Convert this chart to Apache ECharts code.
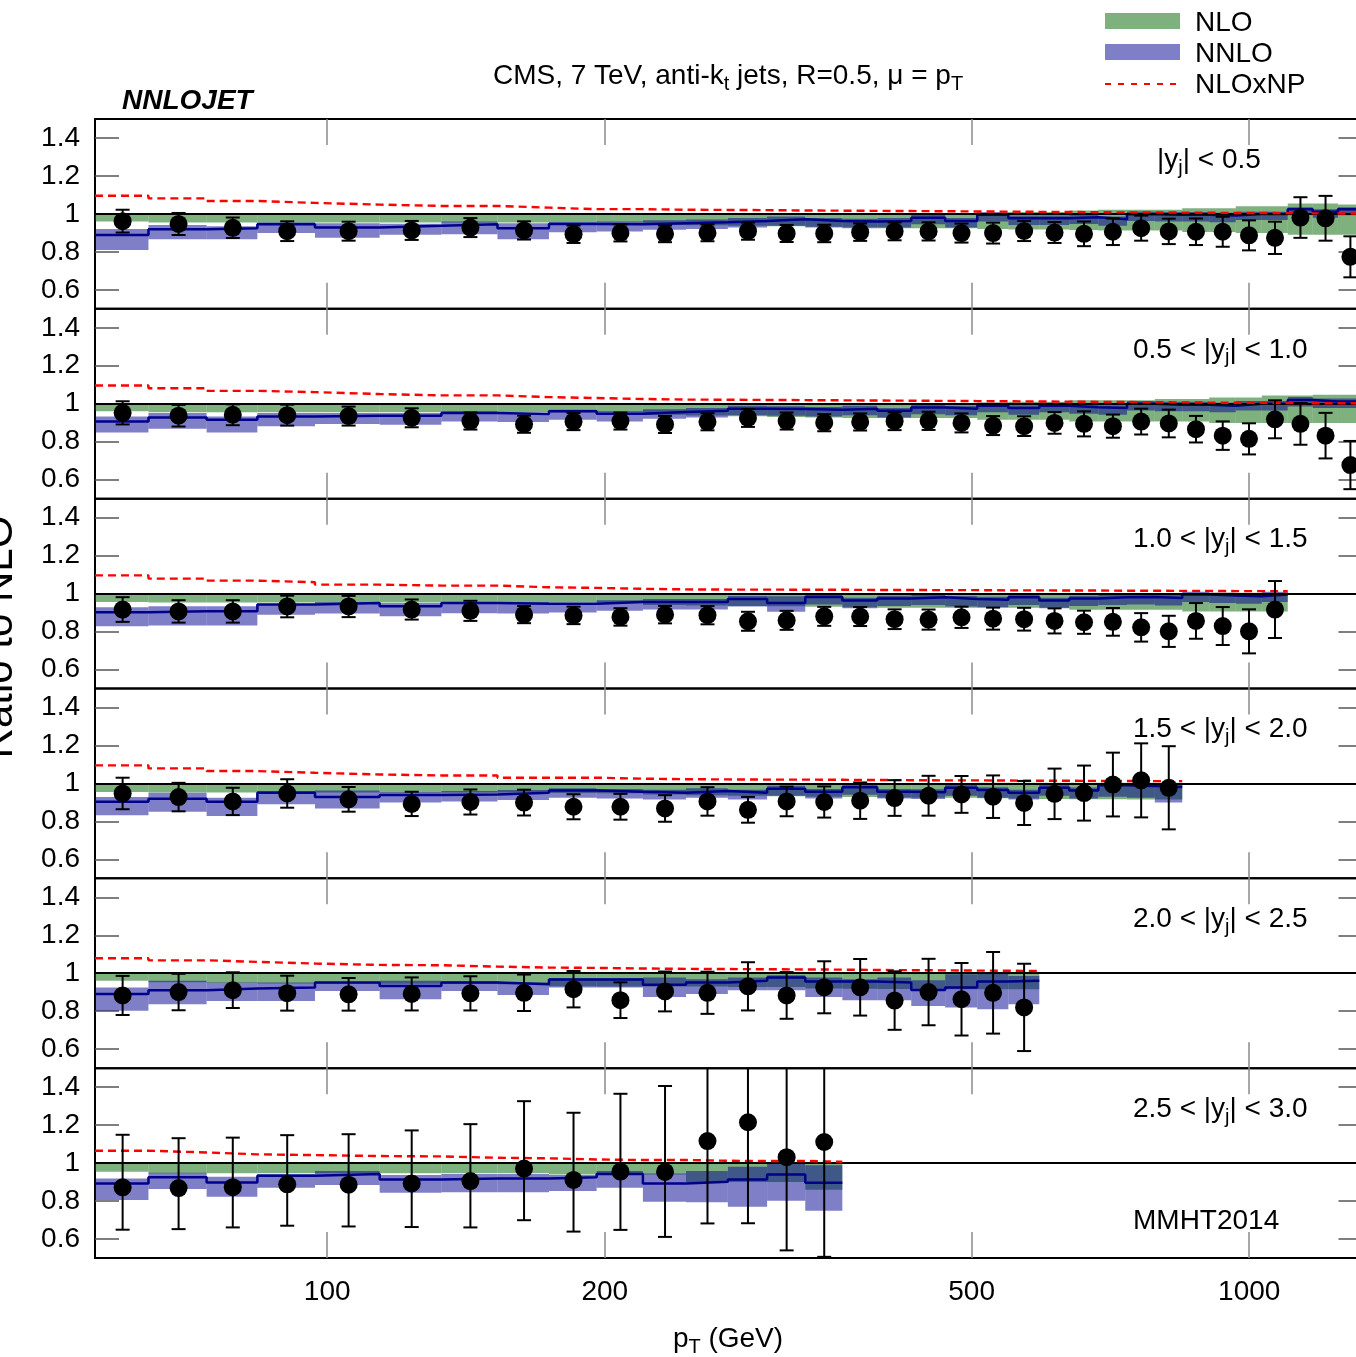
<!DOCTYPE html>
<html>
<head>
<meta charset="utf-8">
<title>NNLOJET – CMS 7 TeV inclusive jets, ratio to NLO</title>
<script src="https://cdn.jsdelivr.net/npm/echarts@6/dist/echarts.min.js"></script>
<style>
  html, body { margin: 0; padding: 0; background: #ffffff; }
  #chart { width: 1356px; height: 1357px; }
</style>
</head>
<body>
<div id="chart"></div>
<script>
// ---------------------------------------------------------------------------
// Jet pT bin edges (GeV) shared by all rapidity slices
const binEdges = [56, 64, 74, 84, 97, 114, 133, 153, 174, 196, 220, 245, 272, 300, 330, 362,
  395, 430, 468, 507, 548, 592, 638, 686, 737, 790, 846, 905, 967, 1032, 1101, 1172, 1248, 1327];
const xTickValues = [100, 200, 500, 1000];
const yTickValues = [0.6, 0.8, 1.0, 1.2, 1.4];
// rapidity slice bounds: [lower, upper] ('' = no lower bound)
const sliceBounds = [['', '0.5'], ['0.5', '1.0'], ['1.0', '1.5'], ['1.5', '2.0'], ['2.0', '2.5'], ['2.5', '3.0']];

// ---- |y| < 0.5 ------------------------------------------------------------
const cmsY1 = [0.962, 0.947, 0.927, 0.909, 0.909, 0.913, 0.928, 0.913, 0.893, 0.9, 0.895, 0.9, 0.909, 0.897, 0.897, 0.904, 0.908, 0.908, 0.899, 0.899, 0.91, 0.902, 0.895, 0.906, 0.925, 0.908, 0.906, 0.906, 0.887, 0.874, 0.981, 0.977, 0.774];
const errY1 = [0.06, 0.058, 0.054, 0.052, 0.05, 0.05, 0.05, 0.048, 0.046, 0.045, 0.044, 0.044, 0.045, 0.045, 0.046, 0.046, 0.047, 0.048, 0.05, 0.055, 0.053, 0.055, 0.065, 0.07, 0.066, 0.067, 0.07, 0.079, 0.079, 0.085, 0.107, 0.118, 0.108];
const nloLoY1 = [0.96, 0.955, 0.955, 0.955, 0.955, 0.955, 0.955, 0.955, 0.955, 0.955, 0.942, 0.94, 0.937, 0.935, 0.932, 0.93, 0.925, 0.925, 0.925, 0.92, 0.918, 0.918, 0.915, 0.912, 0.912, 0.912, 0.905, 0.905, 0.9, 0.9, 0.89, 0.89, 0.89];
const nloHiY1 = [1, 1, 1, 1, 1, 1, 1, 1, 1, 1, 1, 1, 1, 1, 1, 1, 1, 1, 1, 1.005, 1.01, 1.01, 1.018, 1.022, 1.022, 1.022, 1.03, 1.03, 1.04, 1.04, 1.055, 1.055, 1.05];
const nnloY1 = [0.889, 0.919, 0.925, 0.946, 0.928, 0.937, 0.946, 0.925, 0.947, 0.946, 0.951, 0.956, 0.963, 0.972, 0.963, 0.96, 0.963, 0.98, 0.963, 0.995, 0.977, 0.977, 0.982, 0.972, 0.998, 0.995, 0.995, 0.991, 1.0, 1.0, 1.025, 1.012, 1.025];
const nnloHiY1 = [0.921, 0.942, 0.935, 0.956, 0.951, 0.948, 0.96, 0.951, 0.958, 0.96, 0.966, 0.971, 0.978, 0.987, 0.978, 0.975, 0.978, 0.995, 0.978, 1.01, 0.992, 0.992, 0.997, 0.987, 1.013, 1.01, 1.01, 1.006, 1.012, 1.012, 1.035, 1.024, 1.035];
const nnloLoY1 = [0.81, 0.867, 0.867, 0.9, 0.875, 0.89, 0.893, 0.867, 0.904, 0.907, 0.916, 0.921, 0.928, 0.937, 0.928, 0.925, 0.928, 0.945, 0.928, 0.96, 0.942, 0.942, 0.947, 0.937, 0.963, 0.96, 0.96, 0.956, 0.968, 0.968, 0.993, 0.98, 0.993];
const npY1 = [1.096, 1.082, 1.068, 1.058, 1.049, 1.042, 1.042, 1.033, 1.025, 1.025, 1.022, 1.021, 1.02, 1.018, 1.017, 1.016, 1.015, 1.014, 1.013, 1.012, 1.011, 1.01, 1.009, 1.008, 1.008, 1.007, 1.006, 1.005, 1.005, 1.004, 1.003, 1.002, 1.002];

// ---- 0.5 < |y| < 1.0 -------------------------------------------------------
const cmsY2 = [0.952, 0.937, 0.942, 0.94, 0.935, 0.926, 0.909, 0.892, 0.906, 0.909, 0.891, 0.905, 0.925, 0.909, 0.9, 0.904, 0.908, 0.91, 0.899, 0.885, 0.882, 0.899, 0.894, 0.882, 0.906, 0.896, 0.866, 0.832, 0.815, 0.918, 0.894, 0.832, 0.677];
const errY2 = [0.061, 0.057, 0.055, 0.055, 0.05, 0.05, 0.045, 0.045, 0.045, 0.045, 0.045, 0.045, 0.047, 0.045, 0.045, 0.045, 0.047, 0.048, 0.05, 0.05, 0.052, 0.057, 0.066, 0.061, 0.068, 0.073, 0.07, 0.075, 0.082, 0.1, 0.11, 0.12, 0.127];
const nloLoY2 = [0.96, 0.955, 0.955, 0.955, 0.955, 0.955, 0.955, 0.955, 0.955, 0.955, 0.942, 0.938, 0.934, 0.93, 0.927, 0.925, 0.925, 0.925, 0.925, 0.916, 0.916, 0.916, 0.907, 0.907, 0.907, 0.907, 0.907, 0.898, 0.898, 0.898, 0.898, 0.898, 0.898];
const nloHiY2 = [1, 1, 1, 1, 1, 1, 1, 1, 1, 1, 1, 1, 1, 1, 1, 1, 1, 1, 1, 1.007, 1.01, 1.01, 1.018, 1.018, 1.018, 1.025, 1.025, 1.033, 1.033, 1.044, 1.044, 1.047, 1.047];
const nnloY2 = [0.907, 0.928, 0.916, 0.933, 0.937, 0.937, 0.951, 0.946, 0.96, 0.947, 0.956, 0.963, 0.974, 0.972, 0.968, 0.974, 0.963, 0.98, 0.974, 0.99, 0.977, 0.99, 0.982, 0.977, 1.0, 0.995, 0.995, 0.99, 1.0, 1.0, 1.02, 1.012, 1.012];
const nnloHiY2 = [0.933, 0.951, 0.933, 0.951, 0.951, 0.951, 0.96, 0.951, 0.968, 0.96, 0.971, 0.978, 0.989, 0.987, 0.983, 0.989, 0.978, 0.995, 0.989, 1.005, 0.992, 1.005, 0.997, 0.992, 1.015, 1.01, 1.01, 1.005, 1.015, 1.015, 1.035, 1.027, 1.027];
const nnloLoY2 = [0.849, 0.868, 0.849, 0.881, 0.893, 0.89, 0.907, 0.904, 0.916, 0.907, 0.921, 0.928, 0.939, 0.937, 0.933, 0.939, 0.928, 0.945, 0.939, 0.955, 0.942, 0.955, 0.947, 0.942, 0.965, 0.96, 0.96, 0.955, 0.965, 0.965, 0.985, 0.977, 0.977];
const npY2 = [1.096, 1.082, 1.068, 1.061, 1.051, 1.044, 1.044, 1.035, 1.03, 1.025, 1.022, 1.021, 1.02, 1.019, 1.018, 1.017, 1.016, 1.015, 1.014, 1.013, 1.012, 1.011, 1.01, 1.009, 1.008, 1.007, 1.006, 1.005, 1.005, 1.004, 1.003, 1.003, 1.002];

// ---- 1.0 < |y| < 1.5 -------------------------------------------------------
const cmsY3 = [0.916, 0.906, 0.906, 0.932, 0.932, 0.916, 0.909, 0.889, 0.885, 0.877, 0.889, 0.886, 0.854, 0.859, 0.88, 0.879, 0.865, 0.863, 0.875, 0.868, 0.865, 0.856, 0.849, 0.851, 0.822, 0.801, 0.856, 0.829, 0.801, 0.916];
const errY3 = [0.065, 0.059, 0.059, 0.057, 0.056, 0.053, 0.053, 0.045, 0.046, 0.046, 0.046, 0.048, 0.05, 0.05, 0.05, 0.05, 0.052, 0.053, 0.056, 0.058, 0.06, 0.066, 0.061, 0.073, 0.075, 0.082, 0.094, 0.1, 0.116, 0.15];
const nloLoY3 = [0.955, 0.953, 0.953, 0.953, 0.953, 0.953, 0.953, 0.953, 0.953, 0.953, 0.94, 0.937, 0.935, 0.933, 0.93, 0.928, 0.925, 0.925, 0.925, 0.925, 0.925, 0.925, 0.915, 0.915, 0.915, 0.915, 0.905, 0.905, 0.905, 0.905];
const nloHiY3 = [1, 1, 1, 1, 1, 1, 1, 1, 1, 1, 1, 1, 1, 1, 1, 1, 1, 1, 1, 1, 1, 1, 1, 1, 1, 1, 1.005, 1.005, 1.005, 1.005];
const nnloY3 = [0.902, 0.907, 0.907, 0.942, 0.951, 0.933, 0.951, 0.946, 0.946, 0.956, 0.956, 0.956, 0.972, 0.951, 0.982, 0.963, 0.974, 0.98, 0.972, 0.968, 0.98, 0.963, 0.974, 0.98, 0.982, 0.977, 0.995, 0.99, 0.986, 0.995];
const nnloHiY3 = [0.928, 0.933, 0.933, 0.946, 0.956, 0.951, 0.956, 0.956, 0.951, 0.965, 0.971, 0.971, 0.987, 0.986, 0.997, 0.978, 0.989, 0.995, 0.987, 0.983, 0.995, 0.978, 0.989, 0.995, 0.997, 0.992, 1.01, 1.005, 1.001, 1.01];
const nnloLoY3 = [0.828, 0.832, 0.832, 0.889, 0.895, 0.881, 0.897, 0.895, 0.9, 0.91, 0.916, 0.916, 0.932, 0.904, 0.942, 0.923, 0.934, 0.94, 0.932, 0.928, 0.94, 0.923, 0.934, 0.94, 0.942, 0.937, 0.955, 0.95, 0.946, 0.955];
const npY3 = [1.096, 1.079, 1.068, 1.06, 1.047, 1.042, 1.042, 1.033, 1.03, 1.025, 1.022, 1.021, 1.021, 1.02, 1.02, 1.019, 1.019, 1.018, 1.018, 1.017, 1.017, 1.016, 1.016, 1.015, 1.015, 1.014, 1.014, 1.013, 1.013, 1.012];

// ---- 1.5 < |y| < 2.0 -------------------------------------------------------
const cmsY4 = [0.947, 0.928, 0.905, 0.947, 0.916, 0.892, 0.902, 0.899, 0.877, 0.877, 0.868, 0.905, 0.861, 0.905, 0.902, 0.909, 0.923, 0.935, 0.942, 0.93, 0.897, 0.945, 0.949, 0.994, 1.016, 0.977];
const errY4 = [0.083, 0.075, 0.072, 0.075, 0.065, 0.064, 0.066, 0.068, 0.066, 0.068, 0.07, 0.075, 0.068, 0.078, 0.082, 0.096, 0.094, 0.105, 0.097, 0.112, 0.116, 0.133, 0.145, 0.168, 0.195, 0.219];
const nloLoY4 = [0.955, 0.952, 0.952, 0.952, 0.952, 0.952, 0.952, 0.952, 0.95, 0.948, 0.942, 0.938, 0.935, 0.932, 0.93, 0.928, 0.926, 0.925, 0.924, 0.922, 0.92, 0.918, 0.917, 0.916, 0.915, 0.915];
const nloHiY4 = [1, 1, 1, 1, 1, 1, 1, 1, 1, 1, 1, 1, 1, 1, 1, 1, 1, 1, 1, 1.003, 1.003, 1.003, 1.003, 1.003, 1.003, 1.003];
const nnloY4 = [0.904, 0.919, 0.904, 0.951, 0.928, 0.939, 0.942, 0.951, 0.963, 0.956, 0.951, 0.96, 0.951, 0.972, 0.956, 0.98, 0.956, 0.954, 0.977, 0.965, 0.951, 0.977, 0.963, 0.99, 0.986, 0.981];
const nnloHiY4 = [0.928, 0.951, 0.925, 0.96, 0.963, 0.955, 0.96, 0.965, 0.975, 0.97, 0.966, 0.975, 0.966, 0.987, 0.971, 0.995, 0.971, 0.969, 0.992, 0.98, 0.966, 0.992, 0.978, 1.0, 0.998, 0.995];
const nnloLoY4 = [0.832, 0.851, 0.828, 0.89, 0.868, 0.9, 0.905, 0.912, 0.925, 0.92, 0.915, 0.925, 0.915, 0.935, 0.92, 0.94, 0.92, 0.918, 0.935, 0.925, 0.915, 0.935, 0.92, 0.93, 0.925, 0.9];
const npY4 = [1.095, 1.079, 1.065, 1.056, 1.047, 1.042, 1.042, 1.03, 1.03, 1.025, 1.022, 1.021, 1.02, 1.02, 1.019, 1.018, 1.017, 1.016, 1.016, 1.015, 1.014, 1.014, 1.013, 1.013, 1.012, 1.012];

// ---- 2.0 < |y| < 2.5 -------------------------------------------------------
const cmsY5 = [0.883, 0.901, 0.911, 0.895, 0.889, 0.891, 0.894, 0.897, 0.916, 0.858, 0.904, 0.897, 0.931, 0.883, 0.926, 0.926, 0.856, 0.901, 0.863, 0.897, 0.82];
const errY5 = [0.103, 0.096, 0.094, 0.092, 0.086, 0.087, 0.09, 0.096, 0.096, 0.094, 0.105, 0.111, 0.127, 0.123, 0.137, 0.149, 0.154, 0.175, 0.191, 0.215, 0.23];
const nloLoY5 = [0.96, 0.952, 0.948, 0.946, 0.945, 0.944, 0.943, 0.942, 0.932, 0.93, 0.93, 0.93, 0.928, 0.927, 0.92, 0.918, 0.917, 0.916, 0.915, 0.915, 0.915];
const nloHiY5 = [1, 1, 1, 1, 1, 1, 1, 1, 1, 1, 1, 1, 1, 1, 1.005, 1.005, 1.005, 1.005, 1.005, 1.005, 1.005];
const nnloY5 = [0.89, 0.911, 0.919, 0.925, 0.951, 0.933, 0.951, 0.942, 0.967, 0.967, 0.939, 0.951, 0.96, 0.977, 0.956, 0.956, 0.951, 0.912, 0.925, 0.956, 0.96];
const nnloHiY5 = [0.925, 0.96, 0.951, 0.951, 0.954, 0.96, 0.956, 0.951, 0.974, 0.974, 0.977, 0.968, 0.977, 0.99, 0.977, 0.968, 0.977, 0.963, 0.995, 0.998, 0.986];
const nnloLoY5 = [0.802, 0.837, 0.854, 0.854, 0.907, 0.863, 0.907, 0.886, 0.925, 0.925, 0.875, 0.89, 0.91, 0.91, 0.875, 0.858, 0.858, 0.828, 0.819, 0.81, 0.837];
const npY5 = [1.079, 1.068, 1.06, 1.051, 1.044, 1.042, 1.035, 1.03, 1.028, 1.025, 1.023, 1.022, 1.021, 1.02, 1.019, 1.017, 1.016, 1.015, 1.014, 1.013, 1.012];

// ---- 2.5 < |y| < 3.0 -------------------------------------------------------
const cmsY6 = [0.872, 0.868, 0.873, 0.888, 0.886, 0.893, 0.905, 0.971, 0.911, 0.955, 0.953, 1.116, 1.215, 1.031, 1.111];
const errUpY6 = [0.277, 0.263, 0.261, 0.259, 0.266, 0.279, 0.3, 0.355, 0.354, 0.41, 0.453, 0.58, 0.68, 0.62, 0.75];
const errDnY6 = [0.223, 0.216, 0.212, 0.218, 0.22, 0.23, 0.244, 0.272, 0.272, 0.307, 0.342, 0.434, 0.532, 0.491, 0.605];
const nloLoY6 = [0.954, 0.946, 0.946, 0.946, 0.946, 0.946, 0.946, 0.946, 0.94, 0.94, 0.94, 0.9, 0.9, 0.9, 0.86];
const nloHiY6 = [1, 1, 1, 1, 1, 1, 1, 1, 1, 1, 1, 1, 1, 1, 1];
const nnloY6 = [0.893, 0.925, 0.898, 0.933, 0.942, 0.914, 0.919, 0.919, 0.925, 0.942, 0.893, 0.902, 0.914, 0.94, 0.896];
const nnloHiY6 = [0.919, 0.949, 0.928, 0.942, 0.958, 0.937, 0.942, 0.942, 0.937, 0.958, 0.945, 0.958, 0.981, 0.998, 0.989];
const nnloLoY6 = [0.805, 0.863, 0.823, 0.87, 0.884, 0.844, 0.846, 0.846, 0.853, 0.87, 0.796, 0.793, 0.77, 0.802, 0.749];
const npY6 = [1.065, 1.056, 1.046, 1.042, 1.037, 1.035, 1.028, 1.025, 1.019, 1.016, 1.016, 1.012, 1.011, 1.011, 1.007];

const slices = [
  { cms: cmsY1, errUp: errY1, errDn: errY1, nloLo: nloLoY1, nloHi: nloHiY1, nnlo: nnloY1, nnloLo: nnloLoY1, nnloHi: nnloHiY1, np: npY1 },
  { cms: cmsY2, errUp: errY2, errDn: errY2, nloLo: nloLoY2, nloHi: nloHiY2, nnlo: nnloY2, nnloLo: nnloLoY2, nnloHi: nnloHiY2, np: npY2 },
  { cms: cmsY3, errUp: errY3, errDn: errY3, nloLo: nloLoY3, nloHi: nloHiY3, nnlo: nnloY3, nnloLo: nnloLoY3, nnloHi: nnloHiY3, np: npY3 },
  { cms: cmsY4, errUp: errY4, errDn: errY4, nloLo: nloLoY4, nloHi: nloHiY4, nnlo: nnloY4, nnloLo: nnloLoY4, nnloHi: nnloHiY4, np: npY4 },
  { cms: cmsY5, errUp: errY5, errDn: errY5, nloLo: nloLoY5, nloHi: nloHiY5, nnlo: nnloY5, nnloLo: nnloLoY5, nnloHi: nnloHiY5, np: npY5 },
  { cms: cmsY6, errUp: errUpY6, errDn: errDnY6, nloLo: nloLoY6, nloHi: nloHiY6, nnlo: nnloY6, nnloLo: nnloLoY6, nnloHi: nnloHiY6, np: npY6 }
];

// ---------------------------------------------------------------------------
// Styling
const FONT = "'Liberation Sans', Arial, Helvetica, sans-serif";
const FONT_SIZE = 28;
const SUB_SIZE = 20;
const NLO_FILL = 'rgba(0, 100, 0, 0.5)';
const NNLO_FILL = 'rgba(0, 0, 145, 0.5)';
const NNLO_LINE = '#00008b';
const NP_LINE = '#ff0000';

// Panel geometry
const PLOT_LEFT = 95;
const PLOT_TOP = 119;
const PANEL_H = 189.83;
const PLOT_W = 1267.5;
const X_MIN = binEdges[0];
const X_MAX = binEdges[binEdges.length - 1];

// step-line points: value held over each bin, closing at the last edge
function stepPoints(values) {
  const pts = values.map((v, k) => [binEdges[k], v]);
  pts.push([binEdges[values.length], values[values.length - 1]]);
  return pts;
}

function bandData(lo, hi) {
  return lo.map((v, k) => [binEdges[k], binEdges[k + 1], v, hi[k]]);
}

function binCentre(k) {
  return (binEdges[k] + binEdges[k + 1]) / 2;
}

function renderBand(fill) {
  return function (params, api) {
    const a = api.coord([api.value(0), api.value(3)]);
    const b = api.coord([api.value(1), api.value(2)]);
    return {
      type: 'rect',
      shape: { x: a[0], y: a[1], width: b[0] - a[0], height: b[1] - a[1] },
      style: { fill: fill }
    };
  };
}

function renderErrorBar(params, api) {
  const x = api.value(0);
  const lo = api.coord([x, api.value(1)]);
  const hi = api.coord([x, api.value(2)]);
  const cs = params.coordSys;
  const yTop = Math.max(hi[1], cs.y);
  const yBot = Math.min(lo[1], cs.y + cs.height);
  const half = 7;
  const style = { stroke: '#000', lineWidth: 2 };
  const kids = [{ type: 'line', shape: { x1: hi[0], y1: yTop, x2: hi[0], y2: yBot }, style: style }];
  if (hi[1] >= cs.y) {
    kids.push({ type: 'line', shape: { x1: hi[0] - half, y1: hi[1], x2: hi[0] + half, y2: hi[1] }, style: style });
  }
  if (lo[1] <= cs.y + cs.height) {
    kids.push({ type: 'line', shape: { x1: lo[0] - half, y1: lo[1], x2: lo[0] + half, y2: lo[1] }, style: style });
  }
  return { type: 'group', children: kids };
}

const grid = [], xAxis = [], yAxis = [], series = [];

slices.forEach((s, i) => {
  const isLast = i === slices.length - 1;
  grid.push({
    left: PLOT_LEFT, top: PLOT_TOP + i * PANEL_H, width: PLOT_W, height: PANEL_H,
    show: true, borderColor: '#000', borderWidth: 2, backgroundColor: 'transparent',
    containLabel: false, outerBoundsMode: 'none'
  });
  ['bottom', 'top'].forEach(pos => {
    xAxis.push({
      type: 'log', logBase: 10, gridIndex: i, position: pos, min: X_MIN, max: X_MAX,
      axisLine: { show: false },
      splitLine: { show: false },
      minorTick: { show: false },
      minorSplitLine: { show: false },
      axisTick: { show: true, inside: true, length: 26, customValues: xTickValues,
        lineStyle: { color: '#8a8a8a', width: 1.5 } },
      axisLabel: { show: pos === 'bottom' && isLast, customValues: xTickValues,
        fontSize: FONT_SIZE, fontFamily: FONT, color: '#000', margin: 20,
        formatter: v => String(Math.round(v)) }
    });
  });
  ['left', 'right'].forEach(pos => {
    yAxis.push({
      type: 'value', gridIndex: i, position: pos, min: 0.5, max: 1.5,
      axisLine: { show: false },
      splitLine: { show: false },
      axisTick: { show: true, inside: true, length: 24, customValues: yTickValues,
        lineStyle: { color: '#555', width: 1.5 } },
      axisLabel: { show: pos === 'left', customValues: yTickValues,
        fontSize: FONT_SIZE, fontFamily: FONT, color: '#000', margin: 15,
        formatter: v => String(Math.round(v * 10) / 10) }
    });
  });

  const xi = 2 * i, yi = 2 * i;
  series.push({
    type: 'custom', name: 'NLO', xAxisIndex: xi, yAxisIndex: yi, z: 1, silent: true, clip: true,
    renderItem: renderBand(NLO_FILL), encode: { x: [0, 1], y: [2, 3] },
    data: bandData(s.nloLo, s.nloHi)
  });
  series.push({
    type: 'custom', name: 'NNLO', xAxisIndex: xi, yAxisIndex: yi, z: 2, silent: true, clip: true,
    renderItem: renderBand(NNLO_FILL), encode: { x: [0, 1], y: [2, 3] },
    data: bandData(s.nnloLo, s.nnloHi)
  });
  series.push({
    type: 'line', name: 'NNLO central', xAxisIndex: xi, yAxisIndex: yi, z: 4, silent: true,
    step: 'end', showSymbol: false, symbol: 'none',
    lineStyle: { color: NNLO_LINE, width: 2.5 },
    data: stepPoints(s.nnlo),
    markLine: {
      silent: true, symbol: 'none', label: { show: false },
      lineStyle: { color: '#000', width: 2, type: 'solid' },
      data: [{ yAxis: 1 }]
    }
  });
  series.push({
    type: 'line', name: 'NLOxNP', xAxisIndex: xi, yAxisIndex: yi, z: 5, silent: true,
    step: 'end', showSymbol: false, symbol: 'none',
    lineStyle: { color: NP_LINE, width: 2.4, type: [8, 5] },
    data: stepPoints(s.np)
  });
  series.push({
    type: 'custom', name: 'CMS errors', xAxisIndex: xi, yAxisIndex: yi, z: 6, silent: true,
    renderItem: renderErrorBar, encode: { x: 0, y: [1, 2] },
    data: s.cms.map((v, k) => [binCentre(k), v - s.errDn[k], v + s.errUp[k]])
  });
  series.push({
    type: 'scatter', name: 'CMS', xAxisIndex: xi, yAxisIndex: yi, z: 7, silent: true,
    symbol: 'circle', symbolSize: 18, itemStyle: { color: '#000', opacity: 1 },
    data: s.cms.map((v, k) => [binCentre(k), v])
  });
});

// ---------------------------------------------------------------------------
// Texts, legend and annotations
const richBase = {
  n: { fontSize: FONT_SIZE, fontFamily: FONT, lineHeight: 36, fill: '#000', color: '#000' },
  s: { fontSize: SUB_SIZE, fontFamily: FONT, verticalAlign: 'bottom', fill: '#000', color: '#000' }
};

function richText(x, y, text, align) {
  return {
    type: 'text', x: x, y: y, silent: true,
    style: { text: text, rich: richBase, align: align, textAlign: align,
      verticalAlign: 'middle', textVerticalAlign: 'middle',
      font: FONT_SIZE + 'px ' + FONT, fill: '#000' }
  };
}

function plainText(x, y, text, font, align) {
  return {
    type: 'text', x: x, y: y, silent: true,
    style: { text: text, font: font, fill: '#000', align: align, textAlign: align,
      verticalAlign: 'middle', textVerticalAlign: 'middle' }
  };
}

const graphics = [];
graphics.push(richText(728, 76, '{n|CMS, 7 TeV, anti-k}{s|t}{n| jets, R=0.5, μ = p}{s|T}', 'center'));
graphics.push(plainText(122, 101, 'NNLOJET', 'italic bold ' + FONT_SIZE + 'px ' + FONT, 'left'));

sliceBounds.forEach((b, i) => {
  const top = PLOT_TOP + i * PANEL_H;
  const txt = b[0] === ''
    ? '{n||y}{s|j}{n|| < ' + b[1] + '}'
    : '{n|' + b[0] + ' < |y}{s|j}{n|| < ' + b[1] + '}';
  graphics.push(richText(b[0] === '' ? 1157 : 1133, top + 41, txt, 'left'));
});
graphics.push(plainText(1133, 1221, 'MMHT2014', FONT_SIZE + 'px ' + FONT, 'left'));
graphics.push(richText(728, 1339, '{n|p}{s|T}{n| (GeV)}', 'center'));
graphics.push({
  type: 'text', x: 0, y: 637, rotation: Math.PI / 2, silent: true,
  style: { text: 'Ratio to NLO', font: '42px ' + FONT, fill: '#000',
    align: 'center', textAlign: 'center', verticalAlign: 'middle', textVerticalAlign: 'middle' }
});

// legend
graphics.push({ type: 'rect', silent: true, shape: { x: 1105, y: 13, width: 75, height: 16 }, style: { fill: NLO_FILL } });
graphics.push({ type: 'rect', silent: true, shape: { x: 1105, y: 44, width: 75, height: 16 }, style: { fill: NNLO_FILL } });
graphics.push({ type: 'line', silent: true, shape: { x1: 1105, y1: 84, x2: 1177, y2: 84 },
  style: { stroke: NP_LINE, lineWidth: 2, lineDash: [6, 7] } });
graphics.push(plainText(1195, 23, 'NLO', FONT_SIZE + 'px ' + FONT, 'left'));
graphics.push(plainText(1195, 54, 'NNLO', FONT_SIZE + 'px ' + FONT, 'left'));
graphics.push(plainText(1195, 85, 'NLOxNP', FONT_SIZE + 'px ' + FONT, 'left'));

const chart = echarts.init(document.getElementById('chart'), null, { renderer: 'canvas' });
chart.setOption({
  animation: false,
  backgroundColor: '#ffffff',
  textStyle: { fontFamily: FONT },
  grid: grid,
  xAxis: xAxis,
  yAxis: yAxis,
  series: series,
  graphic: { elements: graphics }
});
</script>
</body>
</html>
